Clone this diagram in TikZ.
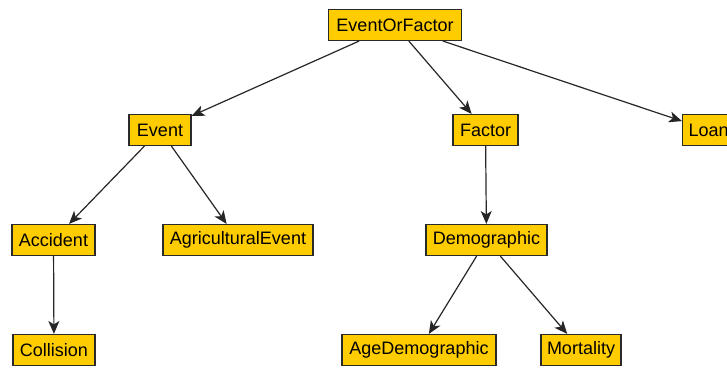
\documentclass[tikz,border=0pt]{standalone}
\usepackage{fontspec}
\setmainfont{Liberation Sans}
\usetikzlibrary{arrows.meta}
\definecolor{boxfill}{HTML}{FFCC00}
\definecolor{boxline}{HTML}{2A2A2A}
\begin{document}
\begin{tikzpicture}[x=1pt,y=-1pt,
  cls/.style={draw=boxline,fill=boxfill,line width=1.1pt,minimum height=31pt,inner xsep=4pt,inner ysep=0pt,font=\fontsize{18}{21}\selectfont,text=black},
  link/.style={draw=black!85,line width=1.2pt,-{Stealth[length=13pt,width=11pt,inset=3.5pt]}}]
\useasboundingbox (0,0) rectangle (727,367);
\node[cls,minimum width=133pt] (eof) at (395,25) {EventOrFactor};
\node[cls,minimum width=62pt] (event) at (160,130) {Event};
\node[cls,minimum width=65pt] (factor) at (485.5,130) {Factor};
\node[cls,minimum width=52pt,anchor=west] (loan) at (682,130) {Loan};
\node[cls,minimum width=83pt] (accident) at (53.5,240) {Accident};
\node[cls,minimum width=150pt] (agri) at (238,240) {AgriculturalEvent};
\node[cls,minimum width=121pt] (demo) at (486.5,240) {Demographic};
\node[cls,minimum width=82pt] (collision) at (54,350) {Collision};
\node[cls,minimum width=154pt] (agedemo) at (419,350) {AgeDemographic};
\node[cls,minimum width=80pt] (mort) at (581,350) {Mortality};
\draw[link] (eof) -- (event);
\draw[link] (eof) -- (factor);
\draw[link] (eof) -- (loan);
\draw[link] (event) -- (accident);
\draw[link] (event) -- (agri);
\draw[link] (factor) -- (demo);
\draw[link] (accident) -- (collision);
\draw[link] (demo) -- (agedemo);
\draw[link] (demo) -- (mort);
\end{tikzpicture}
\end{document}
